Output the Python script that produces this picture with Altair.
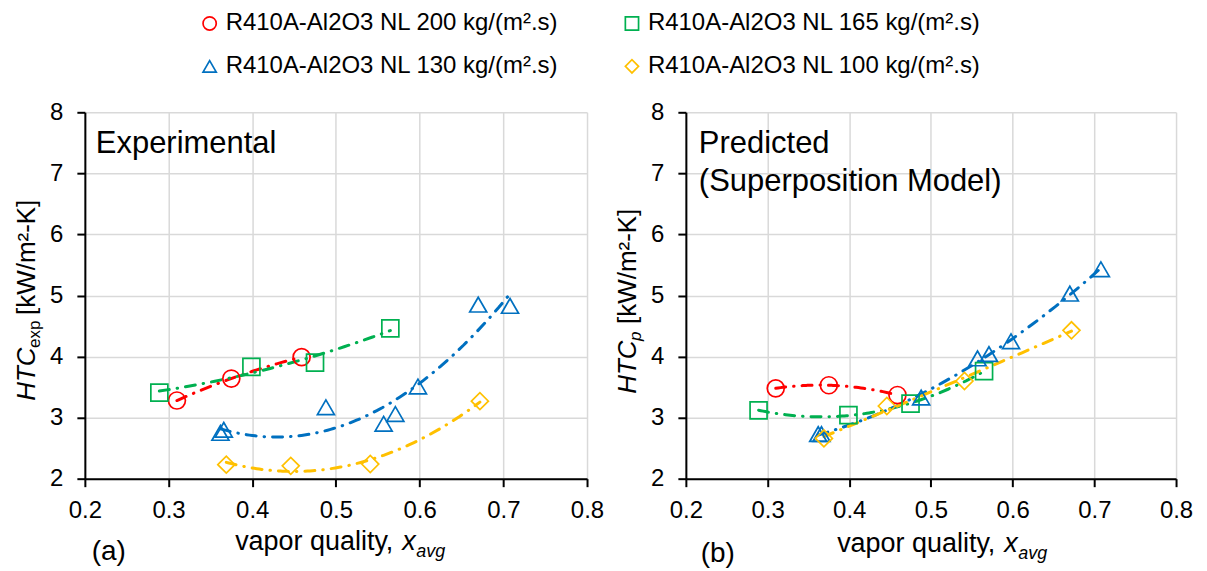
import altair as alt
import pandas as pd

FONT = "Liberation Sans"

# Series (mass flux) labels, colours and marker shapes
SERIES = [
    "R410A-Al2O3 NL 200 kg/(m².s)",
    "R410A-Al2O3 NL 165 kg/(m².s)",
    "R410A-Al2O3 NL 130 kg/(m².s)",
    "R410A-Al2O3 NL 100 kg/(m².s)",
]
COLORS = ["#FF0000", "#00B050", "#0070C0", "#FFC000"]
SHAPES = ["circle", "square", "triangle-up", "diamond"]
SIZES = [290, 290, 300, 215]

# Average vapor quality for each test point
x_200 = [0.310, 0.375, 0.459]
x_165 = [0.289, 0.399, 0.475, 0.565]
x_130 = [0.362, 0.366, 0.488, 0.557, 0.571, 0.598, 0.670, 0.708]
x_100 = [0.369, 0.446, 0.541, 0.672]

# Experimental heat transfer coefficient [kW/m2-K]
htc_exp_200 = [3.28, 3.64, 3.99]
htc_exp_165 = [3.41, 3.83, 3.90, 4.46]
htc_exp_130 = [2.75, 2.80, 3.17, 2.90, 3.06, 3.51, 4.85, 4.83]
htc_exp_100 = [2.23, 2.21, 2.24, 3.27]

# Predicted heat transfer coefficient (superposition model) [kW/m2-K]
htc_p_200 = [3.48, 3.53, 3.37]
htc_p_165 = [3.12, 3.04, 3.23, 3.76]
htc_p_130 = [2.73, 2.73, 3.33, 3.97, 4.04, 4.25, 5.03, 5.43]
htc_p_100 = [2.66, 3.19, 3.60, 4.43]

X_TICKS = [0.2, 0.3, 0.4, 0.5, 0.6, 0.7, 0.8]
Y_TICKS = [2, 3, 4, 5, 6, 7, 8]

LEFT_W, RIGHT_W, PANEL_H = 503, 491, 367
GAP = 99


def frame(xs, ys):
    rows = []
    for name, xv, yv in zip(SERIES, xs, ys):
        for a, b in zip(xv, yv):
            rows.append({"series": name, "x": a, "htc": b})
    return pd.DataFrame(rows)


exp_df = frame([x_200, x_165, x_130, x_100],
               [htc_exp_200, htc_exp_165, htc_exp_130, htc_exp_100])
pred_df = frame([x_200, x_165, x_130, x_100],
                [htc_p_200, htc_p_165, htc_p_130, htc_p_100])

x_scale = alt.Scale(domain=[0.2, 0.8], nice=False, zero=False)
y_scale = alt.Scale(domain=[2, 8], nice=False, zero=False)
color_scale = alt.Scale(domain=SERIES, range=COLORS)
shape_scale = alt.Scale(domain=SERIES, range=SHAPES)
size_scale = alt.Scale(domain=SERIES, range=SIZES)

axis_style = dict(
    title=None, grid=True, gridColor="#D9D9D9", gridWidth=1.5,
    domainColor="black", domainWidth=2, tickColor="black", tickWidth=2,
    tickSize=8, labelFont=FONT, labelFontSize=24, labelColor="black",
    labelOverlap=False, labelFlush=False,
)
x_axis = alt.Axis(values=X_TICKS, format=".1f", labelPadding=12, **axis_style)
y_axis = alt.Axis(values=Y_TICKS, format="d", labelPadding=14, **axis_style)

one = pd.DataFrame({"k": [0]})


def note(text, x, y, size, align="left", baseline="alphabetic", style="normal",
         angle=0):
    props = dict(text=text, font=FONT, fontSize=size, color="black",
                 align=align, baseline=baseline, fontStyle=style)
    if angle:
        props["angle"] = angle
    return alt.Chart(one).mark_text(**props).encode(
        x=alt.value(x), y=alt.value(y))


def panel(df, width, texts):
    base = alt.Chart(df)
    enc_x = alt.X("x:Q", scale=x_scale, axis=x_axis)
    enc_y = alt.Y("htc:Q", scale=y_scale, axis=y_axis)
    enc_c = alt.Color("series:N", scale=color_scale, legend=None)
    trend = base.transform_regression(
        "x", "htc", groupby=["series"], method="poly", order=2
    ).mark_line(strokeWidth=3, strokeDash=[10, 8, 0.5, 8], strokeCap="round").encode(
        x=enc_x, y=enc_y, color=enc_c)
    pts = base.mark_point(filled=False, strokeWidth=1.7, opacity=1).encode(
        x=enc_x, y=enc_y, color=enc_c,
        shape=alt.Shape("series:N", scale=shape_scale, legend=None),
        size=alt.Size("series:N", scale=size_scale, legend=None),
    )
    return alt.layer(trend, pts, *texts).properties(width=width, height=PANEL_H)


# Legend drawn above the left panel (two columns, two rows)
LEG_X0, LEG_DX, LEG_Y0, LEG_DY = 125, 423, -89, 43
legend_layers = []
for i, (name, col, shp) in enumerate(zip(SERIES, COLORS, SHAPES)):
    cx = LEG_X0 + (i % 2) * LEG_DX
    cy = LEG_Y0 + (i // 2) * LEG_DY
    legend_layers.append(
        alt.Chart(one).mark_point(shape=shp, filled=False, color=col, size=175,
                                  strokeWidth=1.7, opacity=1)
        .encode(x=alt.value(cx), y=alt.value(cy)))
    legend_layers.append(note(name, cx + 16, cy, 24, baseline="middle"))

# Transparent canvas frame so the whole figure keeps its page size
canvas = alt.Chart(one).mark_rect(opacity=0).encode(
    x=alt.value(-84), x2=alt.value(1123), y=alt.value(-111), y2=alt.value(460))

left_texts = [
    canvas,
    note("Experimental", 11, 41, 31),
    note("HTC", -58, 289, 26, baseline="middle", style="italic", angle=270),
    note("exp", -50, 236, 17, baseline="middle", angle=270),
    note("[kW/m²-K]", -58, 203, 26, baseline="middle", angle=270),
    note("vapor quality,", 309, 438, 27, align="right"),
    note("x", 318, 438, 27, style="italic"),
    note("avg", 332, 445, 18, style="italic"),
    note("(a)", 24, 440, 28, align="center", baseline="middle"),
] + legend_layers

right_texts = [
    note("Predicted", 13, 41, 31),
    note("(Superposition Model)", 13, 79, 31),
    note("HTC", -58, 282, 26, baseline="middle", style="italic", angle=270),
    note("p", -50, 229, 17, baseline="middle", style="italic", angle=270),
    note("[kW/m²-K]", -58, 212, 26, baseline="middle", angle=270),
    note("vapor quality,", 310, 440, 27, align="right"),
    note("x", 319, 440, 27, style="italic"),
    note("avg", 333, 447, 18, style="italic"),
    note("(b)", 32, 442, 28, align="center", baseline="middle"),
]

left = panel(exp_df, LEFT_W, left_texts)
right = panel(pred_df, RIGHT_W, right_texts)

chart = alt.hconcat(left, right, spacing=GAP, bounds="flush").properties(
    padding=0
).configure_view(stroke="transparent")

chart.save("out.html", embed_options={"renderer": "svg", "actions": False})
